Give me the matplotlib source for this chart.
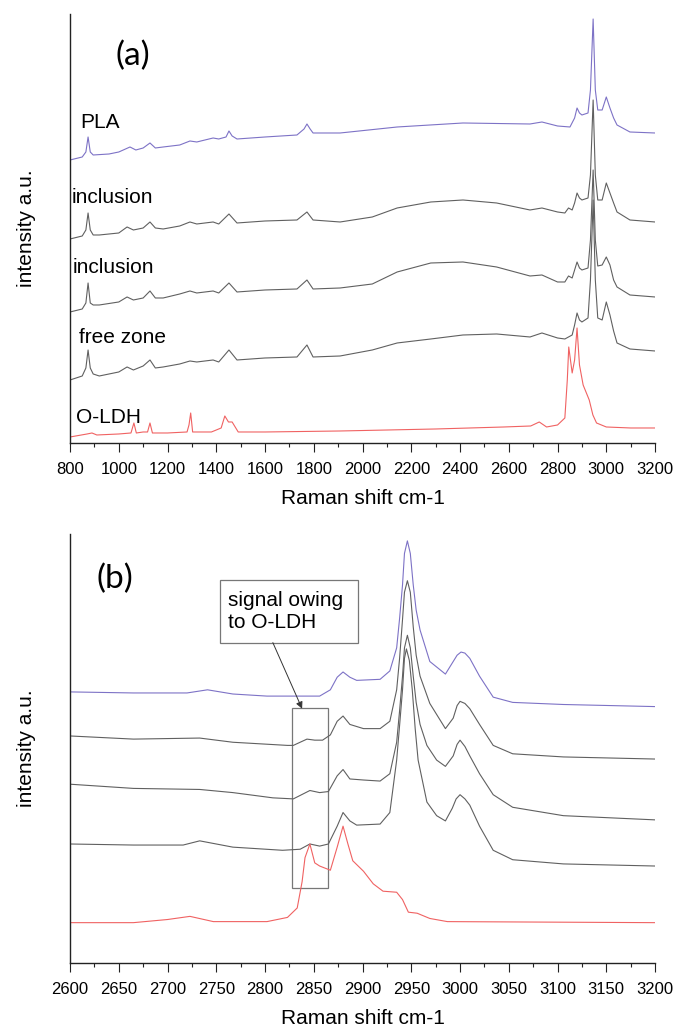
import matplotlib
matplotlib.use('Agg')
import matplotlib.pyplot as plt
from matplotlib.patches import Rectangle
from matplotlib.ticker import MultipleLocator

plt.rcParams['font.family'] = ['Liberation Sans', 'DejaVu Sans']

# ---- panel (a): full range spectra, stacked (a.u.) ----
pla_a_x = [800, 850, 865, 874, 883, 895, 960, 1000, 1046, 1070, 1100, 1128, 1150, 1182, 1250, 1292,
           1320, 1387, 1410, 1440, 1452, 1465, 1485, 1600, 1731, 1760, 1772, 1785, 1797, 1908, 2142,
           2412, 2687, 2736, 2800, 2851, 2870, 2880, 2890, 2900, 2925, 2935, 2946, 2955, 2965, 2983,
           3000, 3015, 3030, 3044, 3097, 3200]
pla_a_y = [283, 286, 291, 306, 291, 288, 289, 291, 296, 293, 295, 300, 295, 296, 298, 302,
           301, 305, 304, 306, 312, 307, 304, 306, 308, 314, 319, 314, 310, 310, 316,
           320, 319, 321, 317, 316, 325, 335, 330, 328, 330, 353, 424, 353, 333, 333,
           346, 335, 325, 318, 311, 310]

grid_a_x = [800, 850, 865, 874, 883, 895, 920, 1000, 1034, 1060, 1100, 1128, 1150, 1182, 1250, 1292,
            1320, 1387, 1410, 1452, 1485, 1600, 1731, 1772, 1797, 1908, 2040, 2142, 2280, 2412, 2550,
            2687, 2736, 2800, 2830, 2845, 2860, 2870, 2880, 2890, 2900, 2925, 2935, 2946, 2955, 2965,
            2983, 3000, 3015, 3030, 3044, 3097, 3200]
incl1_a_y = [204, 207, 213, 230, 213, 208, 208, 210, 216, 213, 215, 221, 215, 214, 217, 221,
             219, 221, 219, 229, 220, 222, 223, 231, 223, 221, 226, 235, 241, 243, 240,
             233, 235, 231, 230, 235, 233, 240, 250, 245, 243, 245, 268, 343, 268, 243,
             243, 260, 250, 240, 231, 223, 221]
incl2_a_y = [131, 134, 140, 160, 140, 138, 138, 141, 146, 143, 145, 152, 145, 145, 149, 152,
             150, 152, 150, 160, 151, 153, 154, 163, 154, 155, 159, 171, 180, 181, 176,
             167, 168, 161, 161, 167, 165, 173, 181, 175, 173, 175, 203, 273, 203, 177,
             178, 186, 178, 163, 156, 148, 146]
free_a_y = [63, 67, 75, 93, 75, 69, 67, 71, 76, 73, 77, 83, 75, 76, 79, 82,
            81, 83, 81, 93, 83, 85, 86, 98, 86, 87, 93, 100, 104, 108, 109,
            106, 110, 105, 104, 106, 108, 118, 130, 123, 121, 125, 163, 243, 163, 125,
            123, 141, 128, 112, 100, 94, 92]

oldh_a_x = [800, 870, 890, 910, 1000, 1050, 1062, 1072, 1100, 1118, 1128, 1138, 1200, 1280, 1288, 1295,
            1303, 1380, 1420, 1435, 1450, 1465, 1490, 1600, 1908, 2300, 2580, 2690, 2725, 2755, 2800,
            2830, 2840, 2846, 2860, 2870, 2880, 2890, 2905, 2930, 2945, 2960, 3000, 3100, 3200]
oldh_a_y = [6, 9, 10, 8, 9, 10, 20, 10, 11, 11, 20, 10, 10, 11, 18, 30,
            11, 11, 15, 27, 21, 21, 11, 11, 12, 14, 16, 17, 21, 16, 18,
            25, 63, 96, 70, 83, 115, 78, 58, 43, 28, 20, 16, 15, 15]

# ---- panel (b): C-H stretching region ----
pla_b_x = [2600, 2665, 2720, 2741, 2767, 2802, 2856, 2867, 2874, 2880, 2887, 2894, 2918, 2928, 2935,
           2938, 2941, 2943, 2946, 2949, 2952, 2955, 2959, 2969, 2985, 2993, 2997, 3001, 3005, 3010,
           3020, 3034, 3054, 3106, 3200]
pla_b_y = [260, 259, 259, 262, 258, 256, 256, 262, 274, 279, 274, 271, 272, 280, 302,
           330, 362, 392, 404, 392, 362, 338, 319, 289, 277, 289, 295, 298, 297, 292,
           275, 255, 250, 248, 246]

incl1_b_x = [2600, 2665, 2733, 2767, 2823, 2829, 2843, 2851, 2859, 2867, 2874, 2880, 2887, 2901, 2918,
             2928, 2935, 2938, 2941, 2943, 2946, 2949, 2952, 2955, 2959, 2969, 2985, 2993, 2997, 3000,
             3005, 3010, 3020, 3034, 3054, 3106, 3200]
incl1_b_y = [218, 215, 216, 212, 209, 209, 215, 214, 214, 219, 232, 237, 229, 225, 225,
             232, 262, 292, 329, 355, 366, 355, 322, 295, 275, 249, 225, 235, 247, 251,
             249, 244, 229, 209, 201, 198, 196]

incl2_b_x = [2600, 2665, 2733, 2767, 2808, 2829, 2846, 2856, 2865, 2874, 2880, 2887, 2901, 2918, 2928,
             2935, 2938, 2941, 2943, 2946, 2949, 2952, 2955, 2959, 2966, 2976, 2985, 2993, 2997, 3000,
             3005, 3010, 3020, 3034, 3054, 3106, 3200]
incl2_b_y = [172, 168, 167, 164, 159, 158, 166, 164, 165, 180, 186, 177, 176, 175, 182,
             212, 242, 275, 302, 314, 302, 275, 250, 229, 209, 195, 189, 199, 210, 214,
             208, 199, 182, 162, 150, 142, 138]

free_b_x = [2600, 2665, 2716, 2733, 2767, 2818, 2836, 2846, 2856, 2865, 2874, 2880, 2887, 2894, 2918,
            2928, 2935, 2938, 2941, 2943, 2945, 2948, 2951, 2954, 2957, 2966, 2976, 2985, 2992, 2996,
            3000, 3005, 3010, 3020, 3034, 3054, 3106, 3200]
free_b_y = [115, 114, 114, 118, 112, 109, 110, 115, 113, 115, 132, 145, 137, 133, 134,
            145, 195, 228, 262, 292, 301, 290, 262, 225, 195, 155, 142, 137, 149, 158,
            162, 158, 152, 132, 109, 100, 96, 94]

oldh_b_x = [2600, 2665, 2700, 2723, 2747, 2802, 2823, 2833, 2838, 2841, 2846, 2851, 2856, 2867, 2874,
            2880, 2885, 2890, 2901, 2911, 2921, 2935, 2941, 2947, 2956, 2969, 2987, 3200]
oldh_b_y = [40, 40, 43, 46, 41, 41, 45, 54, 79, 102, 115, 97, 94, 90, 112,
            132, 115, 99, 89, 77, 70, 69, 62, 50, 49, 44, 41, 40]

PURPLE = '#7d72c6'
GREY = '#606060'
RED = '#f06262'
LW = 0.8


def style_axis(ax, major, minor):
    for side in ('top', 'right'):
        ax.spines[side].set_visible(False)
    for side in ('left', 'bottom'):
        ax.spines[side].set_linewidth(1.0)
        ax.spines[side].set_color('#222222')
    ax.set_yticks([])
    ax.xaxis.set_major_locator(MultipleLocator(major))
    ax.xaxis.set_minor_locator(MultipleLocator(minor))
    ax.tick_params(axis='x', which='major', direction='out', length=6.5, width=0.8,
                   color='#222222', labelsize=12, pad=7.5)
    ax.tick_params(axis='x', which='minor', direction='out', length=3, width=0.8, color='#222222')
    ax.set_xlabel('Raman shift cm-1', fontsize=15)
    ax.set_ylabel('intensity a.u.', fontsize=15)
    ax.xaxis.set_label_coords(0.5, -0.108)
    ax.yaxis.set_label_coords(-0.058, 0.5)


fig = plt.figure(figsize=(6.76, 10.29), dpi=100)

# panel (a)
ax1 = fig.add_axes([0.1036, 0.5695, 0.8654, 0.4169])
ax1.plot(pla_a_x, pla_a_y, color=PURPLE, lw=LW)
ax1.plot(grid_a_x, incl1_a_y, color=GREY, lw=LW)
ax1.plot(grid_a_x, incl2_a_y, color=GREY, lw=LW)
ax1.plot(grid_a_x, free_a_y, color=GREY, lw=LW)
ax1.plot(oldh_a_x, oldh_a_y, color=RED, lw=LW)
ax1.set_xlim(800, 3200)
ax1.set_ylim(0, 429)
style_axis(ax1, 200, 100)
ax1.text(985, 378, '(a)', fontsize=24, family=['Lato', 'DejaVu Sans'])
ax1.text(841, 315, 'PLA', fontsize=15)
ax1.text(808, 240, 'inclusion', fontsize=15)
ax1.text(810, 170, 'inclusion', fontsize=15)
ax1.text(837, 100, 'free zone', fontsize=15)
ax1.text(825, 20, 'O-LDH', fontsize=15)

# panel (b)
ax2 = fig.add_axes([0.1036, 0.0641, 0.8654, 0.4169])
ax2.plot(pla_b_x, pla_b_y, color=PURPLE, lw=LW)
ax2.plot(incl1_b_x, incl1_b_y, color=GREY, lw=LW)
ax2.plot(incl2_b_x, incl2_b_y, color=GREY, lw=LW)
ax2.plot(free_b_x, free_b_y, color=GREY, lw=LW)
ax2.plot(oldh_b_x, oldh_b_y, color=RED, lw=LW)
ax2.set_xlim(2600, 3200)
ax2.set_ylim(1.5, 410.5)
style_axis(ax2, 50, 25)
ax2.text(2627, 359, '(b)', fontsize=24, family=['Lato', 'DejaVu Sans'])

# annotation box + arrow + highlighted region
ax2.add_patch(Rectangle((2754, 307), 141, 60, fill=False, edgecolor='#777777', lw=0.9))
ax2.text(2762, 337, 'signal owing\nto O-LDH', fontsize=15, va='center', linespacing=1.2)
ax2.add_patch(Rectangle((2828, 73), 37, 172, fill=False, edgecolor='#777777', lw=0.9))
ax2.annotate('', xy=(2838, 244), xytext=(2808, 307),
             arrowprops=dict(arrowstyle='-|>', color='#333333', lw=0.7, mutation_scale=10,
                             shrinkA=0, shrinkB=0))

fig.savefig('out.png', dpi=100)
